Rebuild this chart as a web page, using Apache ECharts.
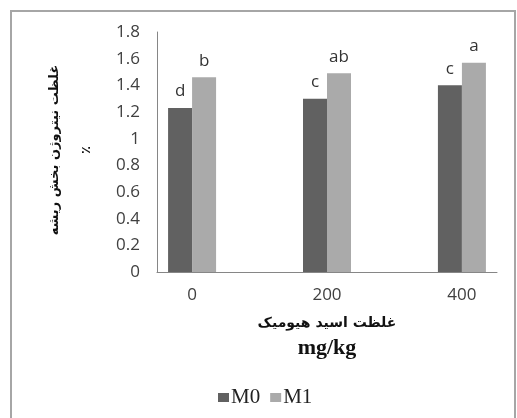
<!DOCTYPE html>
<html><head><meta charset="utf-8">
<script src="https://cdn.jsdelivr.net/npm/echarts@6/dist/echarts.min.js"></script>
<style>html,body{margin:0;padding:0;background:#fff}#c{width:517px;height:418px}</style>
</head><body><div id="c"></div>
<script>
const categories = [0, 200, 400];
const m0Values = [1.23, 1.30, 1.40];
const m1Values = [1.46, 1.49, 1.57];
const m0Letters = ['d', 'c', 'c'];
const m1Letters = ['b', 'ab', 'a'];

const chart = echarts.init(document.getElementById('c'));
const labelStyle = {fontFamily: 'Open Sans', fontSize: 17, color: '#333'};
chart.setOption({
  animation: false,
  backgroundColor: '#fff',
  grid: {left: 157, right: 20, top: 32, bottom: 146},
  xAxis: {
    type: 'value', min: -52, max: 452,
    axisLine: {show: true, onZero: false, lineStyle: {color: '#868686'}},
    axisTick: {show: false},
    splitLine: {show: false},
    axisLabel: {customValues: categories, margin: 15, fontFamily: 'Open Sans', fontSize: 17, color: '#404040'}
  },
  yAxis: {
    type: 'value', min: 0, max: 1.8, interval: 0.2,
    axisLine: {show: true, onZero: false, lineStyle: {color: '#868686'}},
    axisTick: {show: false},
    splitLine: {show: false},
    axisLabel: {margin: 17, fontFamily: 'Open Sans', fontSize: 17, color: '#404040',
      formatter: v => String(+v.toFixed(1))}
  },
  legend: {
    left: 213, top: 382, itemWidth: 11, itemHeight: 9, itemGap: 10,
    icon: 'rect',
    textStyle: {fontFamily: 'Liberation Serif', fontSize: 21, color: '#222', padding: [0,0,0,-3]},
    data: ['M0', 'M1']
  },
  series: [
    {name: 'M0', type: 'bar', barWidth: 24, barGap: '0%',
     data: categories.map((c, i) => [c, m0Values[i]]),
     itemStyle: {color: '#616161'},
     label: {show: true, position: 'top', distance: 8, ...labelStyle,
       formatter: p => m0Letters[p.dataIndex]}},
    {name: 'M1', type: 'bar', barWidth: 24, barGap: '0%',
     data: categories.map((c, i) => [c, m1Values[i]]),
     itemStyle: {color: '#aaaaaa'},
     label: {show: true, position: 'top', distance: 8, ...labelStyle,
       formatter: p => m1Letters[p.dataIndex]}}
  ],
  graphic: [
    {type: 'rect', shape: {x: 11, y: 11, width: 504, height: 440}, style: {fill: 'none', stroke: '#a6a6a6', lineWidth: 2}, silent: true},
    {type: 'text', x: 55, y: 150, rotation: Math.PI / 2,
     style: {text: 'غلظت نیتروژن بخش ریشه', fontFamily: 'DejaVu Sans', fontWeight: 'bold', fontSize: 13, fill: '#111', align: 'center', verticalAlign: 'middle'}},
    {type: 'text', x: 87, y: 150, rotation: Math.PI / 2,
     style: {text: '٪', fontFamily: 'DejaVu Sans', fontWeight: 'bold', fontSize: 13, fill: '#111', align: 'center', verticalAlign: 'middle'}},
    {type: 'text', x: 327, y: 323,
     style: {text: 'غلظت اسید هیومیک', fontFamily: 'DejaVu Sans', fontWeight: 'bold', fontSize: 14, fill: '#111', align: 'center', verticalAlign: 'middle'}},
    {type: 'text', x: 327, y: 348,
     style: {text: 'mg/kg', fontFamily: 'Liberation Serif', fontWeight: 'bold', fontSize: 22, fill: '#111', align: 'center', verticalAlign: 'middle'}}
  ]
});
</script></body></html>
